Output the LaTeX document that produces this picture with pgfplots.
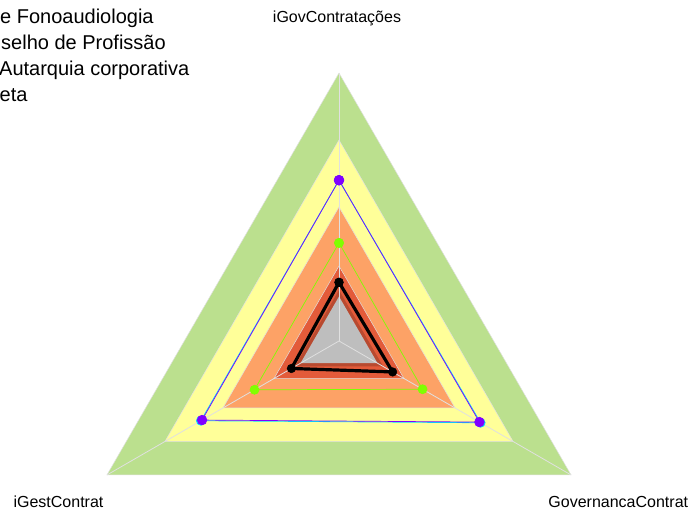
\documentclass[border=0pt]{standalone}
\usepackage{fontspec}
\setmainfont{Liberation Sans}
\usepackage{pgfplots}
\pgfplotsset{compat=1.18}
\definecolor{bgreen}{HTML}{BBE08E}
\definecolor{byellow}{HTML}{FFFF99}
\definecolor{borange}{HTML}{FDA266}
\definecolor{bred}{HTML}{E35B3A}
\definecolor{bdark}{HTML}{B84A30}
\definecolor{bgray}{HTML}{BEBEBE}
\definecolor{spoke}{HTML}{E0E0E0}
\definecolor{schart}{HTML}{80FF00}
\definecolor{scyan}{HTML}{00E0FF}
\definecolor{spurple}{HTML}{8000FF}
\begin{document}
\begin{tikzpicture}
\useasboundingbox (0pt,0pt) rectangle (691pt,513pt);
\clip (0pt,0pt) rectangle (691pt,513pt);
\begin{axis}[at={(0pt,0pt)}, anchor=south west, scale only axis,
  width=691pt, height=513pt,
  xmin=-1.2649, xmax=1.3134, ymin=-0.6418, ymax=1.2724,
  hide axis, clip=false, data cs=polar]
% bands
\addplot[fill=bgreen, draw=spoke, line width=0.5pt] coordinates {(90,1) (210,1) (330,1) (90,1)};
\addplot[fill=byellow, draw=spoke, line width=0.5pt] coordinates {(90,0.75) (210,0.75) (330,0.75) (90,0.75)};
\addplot[fill=borange, draw=spoke, line width=0.5pt] coordinates {(90,0.5) (210,0.5) (330,0.5) (90,0.5)};
\addplot[fill=bred, draw=spoke, line width=0.5pt] coordinates {(90,0.28) (210,0.28) (330,0.28) (90,0.28)};
\addplot[fill=bdark, draw=none] coordinates {(90,0.19) (210,0.19) (330,0.19) (90,0.19)};
\addplot[fill=bgray, draw=none] coordinates {(90,0.166) (210,0.166) (330,0.166) (90,0.166)};
% spokes
\addplot[draw=spoke, line width=0.8pt] coordinates {(0,0) (90,1)};
\addplot[draw=spoke, line width=0.8pt] coordinates {(0,0) (210,1)};
\addplot[draw=spoke, line width=0.8pt] coordinates {(0,0) (330,1)};
% series
\addplot[draw=scyan, line width=0.8pt, mark=*, mark size=4.5pt, mark options={fill=scyan, draw=scyan}]
  coordinates {(90,0.6) (210,0.595) (330,0.61) (90,0.6)};
\addplot[draw=spurple, line width=0.7pt, mark=*, mark size=4.8pt, mark options={fill=spurple, draw=spurple}]
  coordinates {(90,0.6) (210,0.59) (330,0.605) (90,0.6)};
\addplot[draw=schart, line width=0.7pt, mark=*, mark size=4.5pt, mark options={fill=schart, draw=schart}]
  coordinates {(90,0.366) (210,0.364) (330,0.36) (90,0.366)};
\addplot[draw=black, line width=3.2pt, mark=*, mark size=4.3pt, mark options={fill=black, draw=black, line width=0.5pt}]
  coordinates {(90,0.219) (210,0.205) (330,0.231) (90,0.219)};
\end{axis}
% axis labels
\node[font=\fontsize{16}{19}\selectfont, anchor=base, inner sep=0pt] at (337pt,490.5pt) {iGovContratações};
\node[font=\fontsize{16}{19}\selectfont, anchor=base, inner sep=0pt] at (58.5pt,5.3pt) {iGestContrat};
\node[font=\fontsize{16}{19}\selectfont, anchor=base, inner sep=0pt] at (618.3pt,5pt) {GovernancaContrat};
% legend (cut at the left edge)
\node[font=\fontsize{20}{24}\selectfont, anchor=base west, inner sep=0pt] at (0pt,489pt) {e Fonoaudiologia};
\node[font=\fontsize{20}{24}\selectfont, anchor=base west, inner sep=0pt] at (1pt,463pt) {selho de Profissão};
\node[font=\fontsize{20}{24}\selectfont, anchor=base west, inner sep=0pt] at (-1pt,437pt) {Autarquia corporativa};
\node[font=\fontsize{20}{24}\selectfont, anchor=base west, inner sep=0pt] at (-0.5pt,411pt) {eta};
\end{tikzpicture}
\end{document}
